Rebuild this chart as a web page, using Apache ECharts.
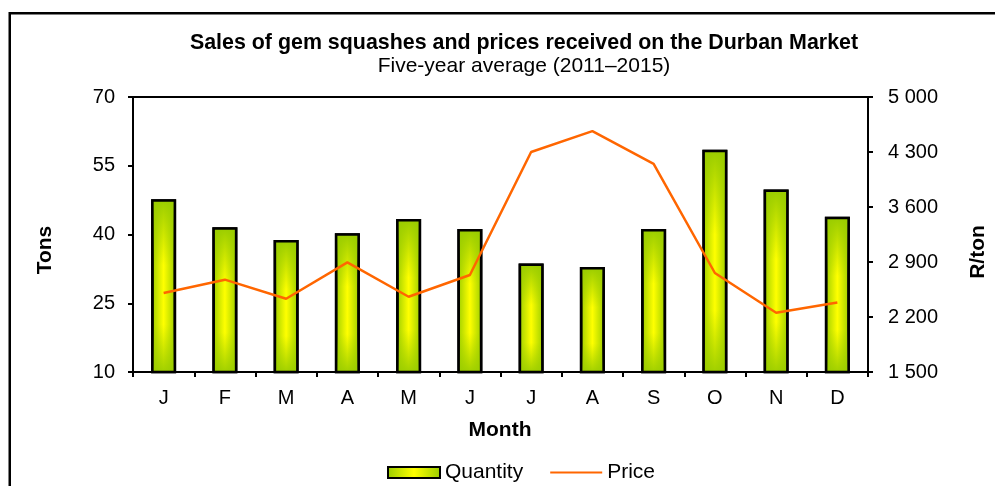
<!DOCTYPE html>
<html><head><meta charset="utf-8">
<script src="https://cdn.jsdelivr.net/npm/echarts@6/dist/echarts.min.js"></script>
<style>html,body{margin:0;padding:0;background:#fff}#c{width:995px;height:486px}</style>
</head><body><div id="c"></div>
<script>
const months = ['J','F','M','A','M','J','J','A','S','O','N','D'];
const quantity = [47.7, 41.6, 38.8, 40.3, 43.4, 41.2, 33.7, 32.9, 41.2, 58.5, 49.8, 43.9];
const price = [2505, 2675, 2432, 2896, 2458, 2735, 4300, 4566, 4148, 2760, 2254, 2385];
const tonsTicks = [10, 25, 40, 55, 70];
const priceTicks = [1500, 2200, 2900, 3600, 4300, 5000];

const FF = "'Liberation Sans', Arial, sans-serif";
const chart = echarts.init(document.getElementById('c'), null, {renderer:'canvas'});
const green = '#99cc00', yellow = '#ffff00';
const axisLine = {show:true, lineStyle:{color:'#000', width:2}};
const axisTick = {show:true, length:5, lineStyle:{color:'#000', width:2}};
const fmt = v => { const s = String(v); return s.length > 3 ? s.slice(0, s.length-3) + ' ' + s.slice(-3) : s; };

chart.setOption({
  animation:false,
  backgroundColor:'#fff',
  grid:{left:133, right:127, top:97, bottom:114, show:true, borderColor:'#000', borderWidth:2, containLabel:false},
  legend:{
    data:[{name:'Quantity', icon:'rect'}, {name:'Price', itemStyle:{opacity:0}}], left:382, top:457, itemWidth:52, itemHeight:11, itemGap:26,
    textStyle:{fontFamily:FF, fontSize:21, color:'#000'}
  },
  xAxis:{
    type:'category', data:months, boundaryGap:true,
    axisLine, axisTick:Object.assign({alignWithLabel:false}, axisTick),
    axisLabel:{fontFamily:FF, fontSize:20, color:'#000', margin:16},
    splitLine:{show:false}
  },
  yAxis:[
    {type:'value', min:tonsTicks[0], max:tonsTicks[tonsTicks.length-1], interval:tonsTicks[1]-tonsTicks[0],
     axisLine, axisTick, splitLine:{show:false},
     axisLabel:{fontFamily:FF, fontSize:20, color:'#000', margin:18}},
    {type:'value', position:'right', min:priceTicks[0], max:priceTicks[priceTicks.length-1], interval:priceTicks[1]-priceTicks[0],
     axisLine, axisTick, splitLine:{show:false},
     axisLabel:{fontFamily:FF, fontSize:20, color:'#000', margin:20, formatter:fmt}}
  ],
  series:[
    {name:'Quantity', type:'bar', data:quantity, barWidth:25, yAxisIndex:0, z:2,
     itemStyle:{borderColor:'#000', borderWidth:2.5,
       color:new echarts.graphic.LinearGradient(0,0,1,0,[{offset:0,color:green},{offset:0.5,color:yellow},{offset:1,color:green}])}},
    {name:'QuantityShade', type:'bar', data:quantity, barWidth:25, barGap:'-100%', yAxisIndex:0, z:3, silent:true,
     itemStyle:{borderColor:'#000', borderWidth:2.5,
       color:new echarts.graphic.LinearGradient(0,0,0,1,[
         {offset:0,color:'rgba(153,204,0,1)'},{offset:0.38,color:'rgba(153,204,0,0)'},
         {offset:0.72,color:'rgba(153,204,0,0)'},{offset:1,color:'rgba(153,204,0,0.95)'}])}},
    {name:'Price', type:'line', data:price, yAxisIndex:1, symbol:'none', z:5,
     lineStyle:{color:'#ff6600', width:2.5}, itemStyle:{color:'#ff6600'}}
  ],
  graphic:[
    {type:'rect', shape:{x:9.75, y:13.25, width:1000, height:500}, style:{fill:'none', stroke:'#000', lineWidth:2.5}, z:100},
    {type:'text', x:524, y:43, style:{text:'Sales of gem squashes and prices received on the Durban Market', fontFamily:FF, fontSize:21.4, fontWeight:'bold', fill:'#000', align:'center', verticalAlign:'middle'}},
    {type:'text', x:524, y:66, style:{text:'Five-year average (2011–2015)', fontFamily:FF, fontSize:21, fill:'#000', align:'center', verticalAlign:'middle'}},
    {type:'text', x:45, y:250, rotation:Math.PI/2, style:{text:'Tons', fontFamily:FF, fontSize:21, fontWeight:'bold', fill:'#000', align:'center', verticalAlign:'middle'}},
    {type:'text', x:978, y:252, rotation:Math.PI/2, style:{text:'R/ton', fontFamily:FF, fontSize:21, fontWeight:'bold', fill:'#000', align:'center', verticalAlign:'middle'}},
    {type:'text', x:500, y:430, style:{text:'Month', fontFamily:FF, fontSize:21, fontWeight:'bold', fill:'#000', align:'center', verticalAlign:'middle'}}
  ]
});
</script></body></html>
